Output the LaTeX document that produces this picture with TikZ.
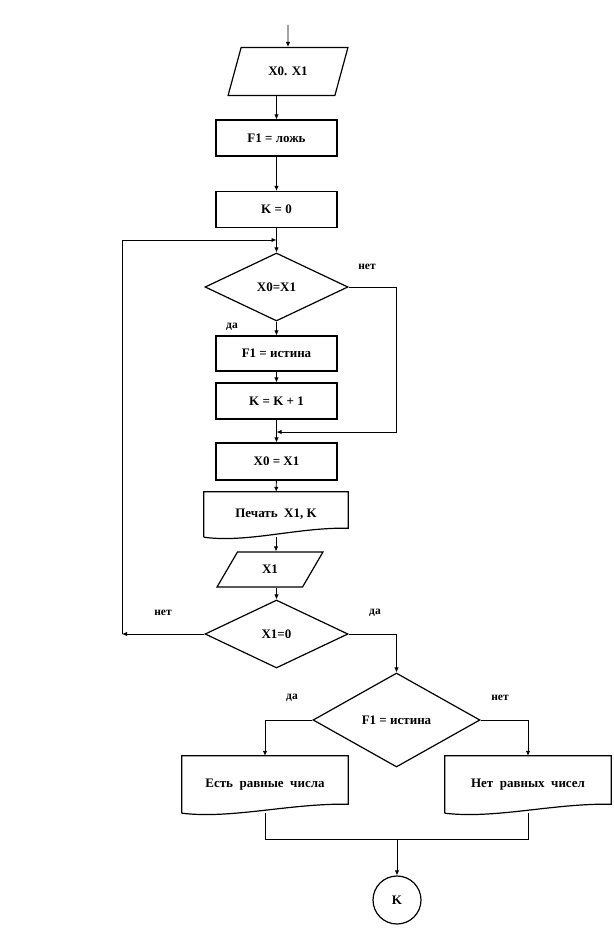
\documentclass[tikz,border=0pt]{standalone}
\usepackage{fontspec}
\setmainfont{Liberation Serif}
\usetikzlibrary{shapes.geometric,arrows.meta,calc}

\begin{document}
\begin{tikzpicture}[x=1pt,y=-1pt,
  font=\bfseries\fontsize{13}{15}\selectfont,
  block/.style={draw,line width=1.2pt,minimum width=121pt,minimum height=36pt,inner sep=1pt},
  ioput/.style={trapezium,trapezium left angle=62,trapezium right angle=118,
    trapezium stretches=true,draw,line width=1.2pt,inner sep=1pt},
  cond/.style={diamond,draw,line width=1.2pt,inner sep=0pt},
  docu/.style={draw=none,inner sep=1pt},
  term/.style={circle,draw,line width=1.2pt,minimum size=48pt,inner sep=0pt},
  answ/.style={font=\bfseries\fontsize{11.5}{13}\selectfont},
  flow/.style={draw,line width=0.9pt,-{Latex[length=5pt,width=4.5pt]}}]

  \useasboundingbox (0,0) rectangle (613,936);

  % input and start
  \coordinate (start) at (288,25);
  \node [ioput,minimum width=120pt,minimum height=48pt] (in1) at (288,71.5) {X0. X1};
  \node [block] (f1) at (276.5,138) {F1 = ложь};
  \node [block] (k0) at (276.5,209.5) {K = 0};

  % loop body
  \node [cond,minimum width=143pt,minimum height=68pt] (eq) at (276.5,287) {X0=X1};
  \node [block,minimum height=35pt] (ft) at (276.5,353.5) {F1 = истина};
  \node [block] (kk) at (276.5,401) {K = K + 1};
  \node [block,minimum height=37pt] (x0) at (276.5,461.5) {X0 = X1};
  \node [docu,minimum width=144pt,minimum height=45pt] (pr) at (276,514.5) {Печать~ X1, K};
  \node [ioput,minimum width=106pt,minimum height=35pt] (in2) at (270,569.5) {X1};
  \node [cond,minimum width=143pt,minimum height=68pt] (zero) at (276.5,634) {X1=0};

  % result
  \node [cond,minimum width=167pt,minimum height=94pt] (fl) at (396.5,720) {F1 = истина};
  \node [docu,minimum width=166pt,minimum height=57pt] (yes) at (265,784.5) {Есть~ равные~ числа};
  \node [docu,minimum width=166pt,minimum height=57pt] (no) at (528,784.5) {Нет~ равных~ чисел};
  \node [term] (end) at (397,900) {K};

  \foreach \n in {pr,yes,no}
    \draw [line width=1.2pt] (\n.south west) -- (\n.north west) -- (\n.north east)
      -- ($(\n.south east)+(0,-9)$)
      .. controls ($(\n.south west)!0.65!(\n.south east)+(0,-10)$)
      and ($(\n.south west)!0.3!(\n.south east)+(0,6)$) .. (\n.south west);

  % connectors
  \coordinate (join1) at (276.5,240);
  \coordinate (join2) at (276.5,432);
  \coordinate (lp) at (122,634);
  \coordinate (merge) at (397,839);

  \draw [flow] (start) -- (in1);
  \draw [flow] (in1.south -| f1.north) -- (f1);
  \draw [flow] (f1) -- (k0);
  \draw [flow] (k0) -- (eq);
  \draw [flow] (eq) -- (ft);
  \draw [flow] (ft) -- (kk);
  \draw [flow] (kk) -- (x0);
  \draw [flow] (eq.east) -- (eq.east -| fl.north) |- (join2);
  \draw [flow] (x0) -- (pr);
  \draw [flow] (pr.south) -- (pr.south |- in2.north);
  \draw [flow] (in2.south -| zero.north) -- (zero);
  \draw [flow] (zero.west) -- (lp);
  \draw [flow] (lp) |- (join1);
  \draw [flow] (zero.east) -| (fl.north);
  \draw [flow] (fl.west) -| (yes.north);
  \draw [flow] (fl.east) -| (no.north);
  \draw [line width=0.9pt] (yes.south) |- (merge -| no.south) -- (no.south);
  \draw [flow] (merge) -- (end);

  % branch labels
  \node [answ] (n1) at (367,267) {нет};
  \node [answ] (y1) at (232,327) {да};
  \node [answ] (n2) at (163,613) {нет};
  \node [answ] (y2) at (375,613) {да};
  \node [answ] (y3) at (292,698) {да};
  \node [answ] (n3) at (500,698) {нет};

\end{tikzpicture}
\end{document}
